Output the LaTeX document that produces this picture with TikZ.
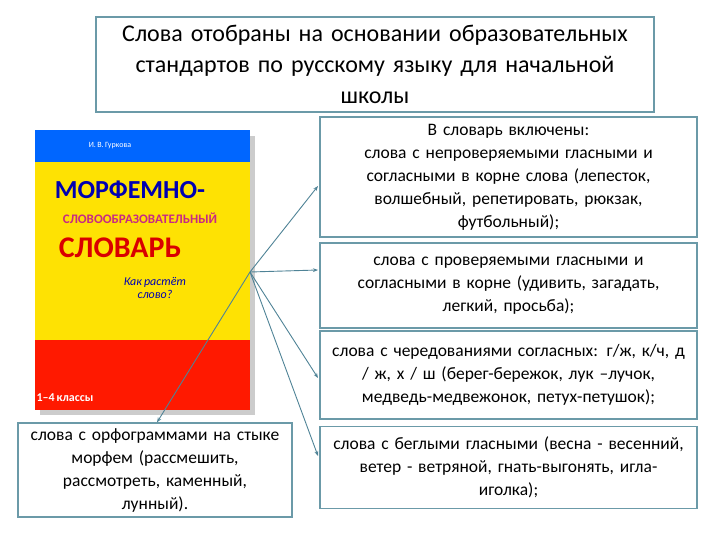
\documentclass[tikz,border=0pt]{standalone}
\usepackage{fontspec}
\setmainfont{Carlito}[WordSpace=0.75]
\usetikzlibrary{arrows.meta}
\begin{document}
\begin{tikzpicture}[x=1pt,y=-1pt,
  box/.style={draw=boxc,line width=1.2pt,fill=white,align=center,inner sep=1pt},
  con/.style={draw=linec,line width=0.9pt,-{Stealth[length=5pt]}},
  txt/.style={font=\fontsize{17.5}{23}\selectfont}]
\definecolor{boxc}{HTML}{6B9AA8}
\definecolor{linec}{HTML}{4F8396}
\useasboundingbox (0,0) rectangle (720,540);
% title
\node[box,minimum width=558pt,minimum height=95pt,text width=555pt,font=\fontsize{24}{31}\selectfont] (title) at (375,64.5)
 {Слова отобраны на основании образовательных\\ стандартов по русскому языку для начальной\\ школы};
% right boxes
\node[box,txt,minimum width=377pt,minimum height=120pt,text width=375pt] (b1) at (508.5,177)
 {В словарь включены:\\ слова с непроверяемыми гласными и\\ согласными в корне слова (лепесток,\\ волшебный, репетировать, рюкзак,\\ футбольный);};
\node[box,txt,minimum width=377pt,minimum height=85pt,text width=375pt] (b2) at (508.5,285.5)
 {слова с проверяемыми гласными и\\ согласными в корне (удивить, загадать,\\ легкий, просьба);};
\node[box,txt,minimum width=377pt,minimum height=88pt,text width=375pt] (b3) at (508.5,375)
 {слова с чередованиями согласных: г/ж, к/ч, д\\ / ж, х / ш (берег-бережок, лук –лучок,\\ медведь-медвежонок, петух-петушок);};
\node[box,txt,minimum width=377pt,minimum height=82pt,text width=375pt,anchor=north] (b4) at (508.5,426)
 {слова с беглыми гласными (весна - весенний,\\ ветер - ветряной, гнать-выгонять, игла-\\ иголка);};
\node[box,txt,minimum width=274pt,minimum height=94pt,text width=272pt] (b5) at (155,470)
 {слова с орфограммами на стыке\\ морфем (рассмешить,\\ рассмотреть, каменный,\\ лунный).};
% book cover
\fill[gray!40] (40,136) rectangle (255,415);
\fill[yellow!85!orange] (35,130) rectangle (250,410);
\fill[blue!60!cyan] (35,130) rectangle (250,162);
\fill[red!80!orange] (35,340) rectangle (250,410);
\node[font=\fontsize{8}{9}\selectfont,text=white] (auth) at (110,146) {И. В. Гуркова};
\node[font=\bfseries\fontsize{26}{28}\selectfont,text=blue!70!black] (t1) at (130,190) {МОРФЕМНО-};
\node[font=\bfseries\fontsize{13}{14}\selectfont,text=magenta!80!black] (t2) at (140,218) {СЛОВООБРАЗОВАТЕЛЬНЫЙ};
\node[font=\bfseries\fontsize{30}{32}\selectfont,text=red!85!black] (t3) at (120,248) {СЛОВАРЬ};
\node[font=\itshape\fontsize{12}{13}\selectfont,text=blue!70!black,align=center] (t4) at (155,288) {Как растёт\\ слово?};
\node[font=\bfseries\fontsize{12}{13}\selectfont,text=white] (t5) at (65,398) {1–4 классы};
% connectors
\coordinate (hub) at (250,272);
\draw[con] (hub) -- (318,186);
\draw[con] (hub) -- (318,270);
\draw[con] (hub) -- (318,378);
\draw[con] (hub) -- (318,456);
\draw[con] (hub) -- (b5.north -| 157,0);
\end{tikzpicture}
\end{document}
